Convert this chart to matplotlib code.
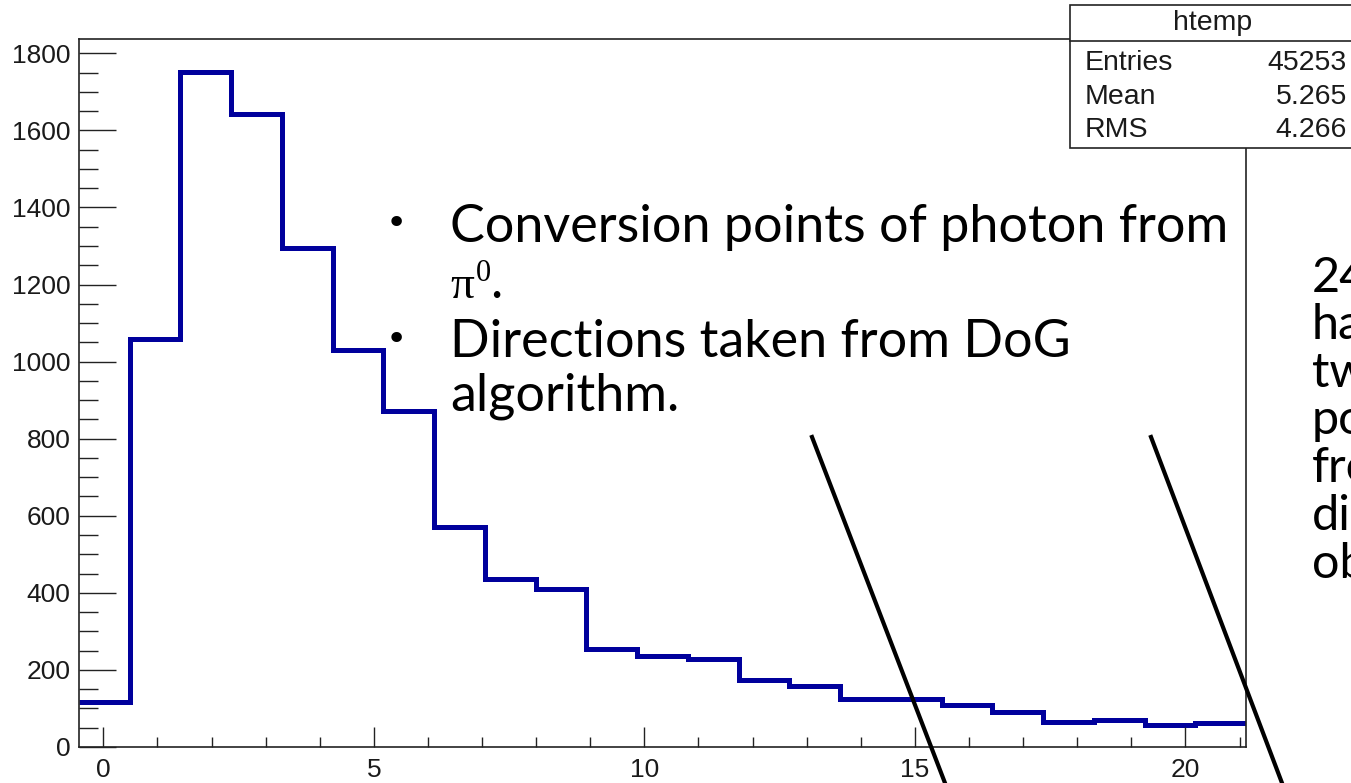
import numpy as np
import matplotlib.pyplot as plt
from matplotlib.lines import Line2D
from matplotlib.patches import Rectangle
from matplotlib.ticker import MultipleLocator

# histogram contents (23 equal bins)
x_lo, x_hi = -0.45, 21.12
counts = [118, 1059, 1751, 1642, 1294, 1030, 872, 570, 436, 410, 254, 237,
          228, 174, 159, 124, 124, 108, 92, 66, 71, 56, 62]

stat_names = ["Entries", "Mean", "RMS"]
stat_values = ["45253", "5.265", "4.266"]

bullets = ["Conversion points of photon from", "Directions taken from DoG"]
side_lines = ["24%", "have", "two", "points", "from", "different", "objects"]

plt.rcParams['font.family'] = ['Liberation Sans', 'DejaVu Sans']

W, H = 1351, 783
fig = plt.figure(figsize=(W / 100, H / 100), dpi=100)


def fx(p):
    return p / W


def fy(p):
    return 1 - p / H


ax = fig.add_axes([fx(79), fy(747), fx(1246) - fx(79), fy(39) - fy(747)])
edges = np.linspace(x_lo, x_hi, len(counts) + 1)
ax.stairs(counts, edges, baseline=None, color='#00009c', lw=3.6)
ax.set_xlim(x_lo, x_hi)
ax.set_ylim(0, 1837)

ax.xaxis.set_major_locator(MultipleLocator(5))
ax.xaxis.set_minor_locator(MultipleLocator(1))
ax.yaxis.set_major_locator(MultipleLocator(200))
ax.yaxis.set_minor_locator(MultipleLocator(50))
ax.tick_params(which='both', direction='in', top=False, right=False,
               color='#222222', width=1.0, labelsize=19, labelcolor='#1a1a1a')
ax.tick_params(axis='y', which='major', length=26.5, pad=6)
ax.tick_params(axis='y', which='minor', length=13.5)
ax.tick_params(axis='x', which='major', length=14.5, pad=8)
ax.tick_params(axis='x', which='minor', length=7.2)
for s in ax.spines.values():
    s.set_linewidth(1.2)
    s.set_color('#222222')

# stats box
fig.add_artist(Rectangle((fx(1070), fy(148)), fx(1356) - fx(1070), fy(5) - fy(148),
                         transform=fig.transFigure, facecolor='white',
                         edgecolor='#222222', lw=1.2, zorder=5))
fig.add_artist(Line2D([fx(1070), fx(1356)], [fy(41), fy(41)], color='#222222',
                      lw=1.2, zorder=6))
fig.text(fx(1213), fy(23), "htemp", ha='center', va='center', fontsize=20.5,
         color='#1a1a1a', zorder=7)
for i, (n, v) in enumerate(zip(stat_names, stat_values)):
    yc = 63 + i * 33.5
    fig.text(fx(1085), fy(yc), n, ha='left', va='center', fontsize=20.5,
             color='#1a1a1a', zorder=7)
    fig.text(fx(1347), fy(yc), v, ha='right', va='center', fontsize=20.5,
             color='#1a1a1a', zorder=7)

# overlay text
tf = ['Lato', 'DejaVu Sans']
tkw = dict(ha='left', va='baseline', fontsize=37.5, family=tf, zorder=8)
fig.text(fx(450), fy(242), bullets[0], **tkw)
fig.text(fx(450), fy(298), "\u03c0", ha='left', va='baseline', fontsize=34,
         family=['Liberation Serif'], zorder=8)
fig.text(fx(476), fy(281), "0", ha='left', va='baseline', fontsize=22,
         family=['Liberation Serif'], zorder=8)
fig.text(fx(490), fy(298), '.', **tkw)
fig.text(fx(450), fy(357), bullets[1], **tkw)
fig.text(fx(450), fy(410), "algorithm.", **tkw)
for yb in (224, 340):
    fig.text(fx(396), fy(yb), "\u2022", ha='center', va='center', fontsize=26,
             family=['DejaVu Sans'], zorder=8)

for i, t in enumerate(side_lines):
    fig.text(fx(1312), fy(292 + i * 47.5), t, ha='left', va='baseline',
             fontsize=35, family=tf, zorder=8)

# pointer lines
for x0, x1 in ((812, 945), (1151, 1282)):
    fig.add_artist(Line2D([fx(x0), fx(x1)], [fy(437), fy(783)], color='black',
                          lw=3.0, zorder=9))

fig.savefig('out.png', dpi=100)
